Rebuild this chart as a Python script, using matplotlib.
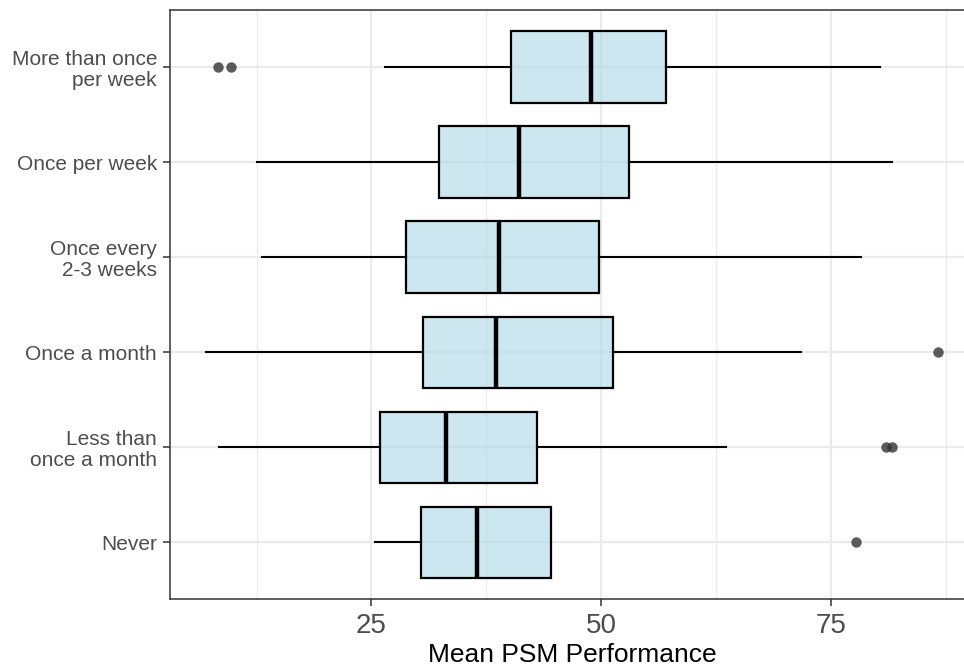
import matplotlib
matplotlib.use("Agg")
import matplotlib.pyplot as plt
from matplotlib.ticker import FixedLocator

plt.rcParams['font.family'] = ['Liberation Sans', 'DejaVu Sans']

# Data (top to bottom as displayed)
categories = ["More than once\nper week", "Once per week", "Once every\n2-3 weeks",
              "Once a month", "Less than\nonce a month", "Never"]
whislo = [26.5, 12.5, 13.1, 7.0, 8.4, 25.4]
q1 = [40.2, 32.4, 28.8, 30.6, 25.9, 30.4]
med = [48.9, 41.0, 38.9, 38.6, 33.1, 36.5]
q3 = [57.1, 53.0, 49.8, 51.3, 43.0, 44.5]
whishi = [80.3, 81.7, 78.3, 71.7, 63.6, 44.5]
outliers = [[8.3, 9.7], [], [], [86.7], [81.0, 81.7], [77.7]]
x_ticks = [25, 50, 75]
x_label = "Mean PSM Performance"

n = len(categories)
positions = list(range(n, 0, -1))

stats = []
for i in range(n):
    stats.append(dict(whislo=whislo[i], q1=q1[i], med=med[i], q3=q3[i],
                      whishi=whishi[i], fliers=outliers[i], label=categories[i]))

fig = plt.figure(figsize=(9.64, 6.69), dpi=100)
ax = fig.add_axes([169.5 / 964, (669 - 599.3) / 669, (975 - 169.5) / 964, (599.3 - 10) / 669])

ax.bxp(stats, positions=positions, widths=0.75, orientation='horizontal',
       showcaps=False, patch_artist=True,
       boxprops=dict(facecolor=(0.678, 0.847, 0.902, 0.6), edgecolor='black', linewidth=1.6),
       whiskerprops=dict(color='black', linewidth=1.5),
       medianprops=dict(color='black', linewidth=3.2),
       flierprops=dict(marker='o', markerfacecolor=(0.2, 0.2, 0.2, 0.8),
                       markeredgecolor=(0.2, 0.2, 0.2, 0.0), markersize=7.5),
       zorder=2)

all_vals = whislo + whishi + [v for o in outliers for v in o]
lo, hi = min(all_vals), max(all_vals)
rng = hi - lo
ax.set_xlim(lo - 0.05 * rng, hi + 0.05 * rng)
ax.set_ylim(0.4, n + 0.6)

ax.xaxis.set_major_locator(FixedLocator(x_ticks))
ax.xaxis.set_minor_locator(FixedLocator([12.5, 37.5, 62.5, 87.5]))
ax.set_yticks(positions)
ax.set_yticklabels(categories, linespacing=1.15)

ax.set_axisbelow(True)
ax.grid(True, which='major', color='#EBEBEB', linewidth=1.6)
ax.grid(True, which='minor', axis='x', color='#EBEBEB', linewidth=1.0)

for s in ax.spines.values():
    s.set_color('#333333')
    s.set_linewidth(1.1)

ax.tick_params(axis='both', which='major', color='#333333', length=5, width=1.1)
ax.tick_params(axis='x', which='major', labelsize=20, labelcolor='#4D4D4D', pad=5)
ax.tick_params(axis='y', which='major', labelsize=15, labelcolor='#4D4D4D', pad=4)
ax.tick_params(axis='x', which='minor', length=0)

ax.set_xlabel(x_label, fontsize=19, color='black', labelpad=3)

fig.savefig("out.png", dpi=100)
